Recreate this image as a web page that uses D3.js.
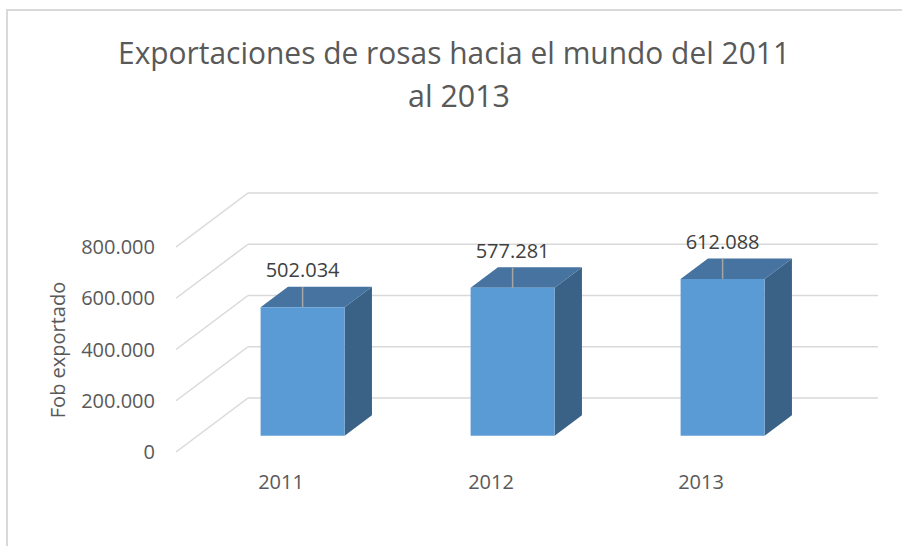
<!DOCTYPE html>
<html>
<head>
<meta charset="utf-8">
<script src="https://cdn.jsdelivr.net/npm/d3@7"></script>
<style>
  body { margin: 0; background: #fff; }
  svg { display: block; font-family: 'Open Sans', sans-serif; }
</style>
</head>
<body>
<svg id="chart" width="902" height="546"></svg>
<script>
// data
const years = ['2011', '2012', '2013'];
const fobValues = [502034, 577281, 612088];
const yTicks = [0, 200000, 400000, 600000, 800000];
const titleLines = ['Exportaciones de rosas hacia el mundo del 2011', 'al 2013'];
const yTitle = 'Fob exportado';

const fmt = v => v === 0 ? '0' : d3.format(',')(v).replace(/,/g, '.');

const svg = d3.select('#chart');

// chart frame (cropped at right/bottom)
svg.append('rect')
  .attr('x', 7).attr('y', 10)
  .attr('width', 1200).attr('height', 1200)
  .attr('fill', '#fff')
  .attr('stroke', '#d9d9d9')
  .attr('stroke-width', 2);

// title
svg.append('text')
  .attr('x', 454).attr('y', 64)
  .attr('text-anchor', 'middle')
  .attr('fill', '#595959')
  .attr('font-size', 31)
  .attr('textLength', 672)
  .attr('lengthAdjust', 'spacingAndGlyphs')
  .text(titleLines[0]);
svg.append('text')
  .attr('x', 459).attr('y', 107)
  .attr('text-anchor', 'middle')
  .attr('fill', '#595959')
  .attr('font-size', 31)
  .attr('textLength', 102)
  .attr('lengthAdjust', 'spacingAndGlyphs')
  .text(titleLines[1]);

// 3D layout: back wall scales + depth projection
const y = d3.scaleLinear().domain([0, 800000]).range([398, 193]);
const x = d3.scaleBand().domain(years).range([248, 878]).paddingInner(0.6).paddingOuter(0.3);
const depthDx = -72, depthDy = 54;
const proj = (px, py, d) => [px + depthDx * d, py + depthDy * d];
const barBack = 0.32, barFront = 0.70;

// back wall gridlines and floor diagonals
const grid = svg.append('g');
yTicks.forEach(t => {
  grid.append('line')
    .attr('x1', 248).attr('x2', 878)
    .attr('y1', y(t)).attr('y2', y(t))
    .attr('stroke', '#d9d9d9').attr('stroke-width', 1.5);
  const [fx, fy] = proj(248, y(t), 1);
  grid.append('line')
    .attr('x1', 248).attr('y1', y(t))
    .attr('x2', fx).attr('y2', fy)
    .attr('stroke', '#d9d9d9').attr('stroke-width', 1.5);
  svg.append('text')
    .attr('x', 155).attr('y', fy + 7)
    .attr('text-anchor', 'end')
    .attr('fill', '#595959')
    .attr('font-size', 20)
    .text(fmt(t));
});

// y axis title
svg.append('text')
  .attr('transform', 'translate(65,350) rotate(-90)')
  .attr('text-anchor', 'middle')
  .attr('fill', '#595959')
  .attr('font-size', 20)
  .text(yTitle);

// bars
const bars = svg.append('g');
years.forEach((yr, i) => {
  const v = fobValues[i];
  const x0 = x(yr), x1 = x(yr) + x.bandwidth();
  const ftl = proj(x0, y(v), barFront), ftr = proj(x1, y(v), barFront);
  const fbl = proj(x0, y(0), barFront), fbr = proj(x1, y(0), barFront);
  const btl = proj(x0, y(v), barBack), btr = proj(x1, y(v), barBack);
  const bbr = proj(x1, y(0), barBack);
  const poly = pts => pts.map(p => p.join(',')).join(' ');

  bars.append('polygon')
    .attr('points', poly([ftr, btr, bbr, fbr]))
    .attr('fill', '#3a6286');
  bars.append('polygon')
    .attr('points', poly([ftl, ftr, btr, btl]))
    .attr('fill', '#4673a0');
  bars.append('polygon')
    .attr('points', poly([ftl, ftr, fbr, fbl]))
    .attr('fill', '#5b9bd5');

  // data label with leader line
  const cx = (ftl[0] + ftr[0]) / 2;
  bars.append('line')
    .attr('x1', cx).attr('x2', cx)
    .attr('y1', ftl[1] - 20).attr('y2', ftl[1])
    .attr('stroke', '#a6a6a6').attr('stroke-width', 1.5);
  bars.append('text')
    .attr('x', cx).attr('y', ftl[1] - 30)
    .attr('text-anchor', 'middle')
    .attr('fill', '#404040')
    .attr('font-size', 20)
    .text(fmt(v));

  // category label at floor front edge
  const [lx, ly] = proj(x0 + x.bandwidth() / 2, y(0), 1);
  svg.append('text')
    .attr('x', lx).attr('y', ly + 37)
    .attr('text-anchor', 'middle')
    .attr('fill', '#595959')
    .attr('font-size', 20)
    .text(yr);
});
</script>
</body>
</html>
